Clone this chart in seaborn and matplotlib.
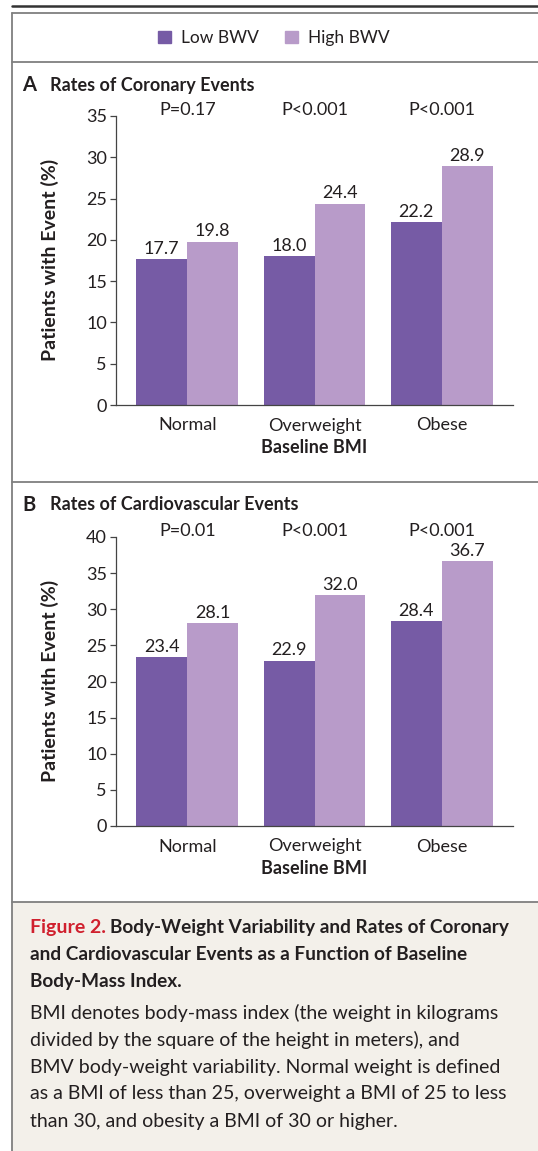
import matplotlib.pyplot as plt
import matplotlib.patches as mpatches
from matplotlib.lines import Line2D
import pandas as pd
import seaborn as sns

W, H = 538, 1151

categories = ["Normal", "Overweight", "Obese"]
groups = ["Low BWV", "High BWV"]

coronary_low = [17.7, 18.0, 22.2]
coronary_high = [19.8, 24.4, 28.9]
coronary_p = ["P=0.17", "P<0.001", "P<0.001"]
coronary_ticks = [0, 5, 10, 15, 20, 25, 30, 35]

cardio_low = [23.4, 22.9, 28.4]
cardio_high = [28.1, 32.0, 36.7]
cardio_p = ["P=0.01", "P<0.001", "P<0.001"]
cardio_ticks = [0, 5, 10, 15, 20, 25, 30, 35, 40]

palette = {"Low BWV": "#765ba5", "High BWV": "#b89bc9"}
INK = "#231f20"
RULE = "#7f7f7f"
FS = 13

caption_head = ["Body-Weight Variability and Rates of Coronary",
                "and Cardiovascular Events as a Function of Baseline",
                "Body-Mass Index."]
caption_body = ["BMI denotes body-mass index (the weight in kilograms",
                "divided by the square of the height in meters), and",
                "BMV body-weight variability. Normal weight is defined",
                "as a BMI of less than 25, overweight a BMI of 25 to less",
                "than 30, and obesity a BMI of 30 or higher."]

sns.set_theme(style="white")
plt.rcParams["font.family"] = ["Lato", "DejaVu Sans"]
plt.rcParams["text.color"] = INK
plt.rcParams["axes.labelcolor"] = INK
plt.rcParams["xtick.color"] = INK
plt.rcParams["ytick.color"] = INK


def fx(x):
    return x / W


def fy(y):
    return 1 - y / H


def rect(left, top, right, bottom):
    return [fx(left), fy(bottom), (right - left) / W, (bottom - top) / H]


fig = plt.figure(figsize=(W / 100, H / 100), dpi=100)

# caption background and frame rules
fig.add_artist(mpatches.Rectangle((fx(12), 0), 1 - fx(12), fy(902), transform=fig.transFigure,
                                  facecolor="#f3f0ea", edgecolor="none", zorder=0))
fig.add_artist(Line2D([fx(12), 1], [fy(6), fy(6)], transform=fig.transFigure, color="#333333", lw=1.8))
for y in [13, 62, 482, 902]:
    fig.add_artist(Line2D([fx(12), 1], [fy(y), fy(y)], transform=fig.transFigure, color=RULE, lw=1.3))
fig.add_artist(Line2D([fx(12), fx(12)], [fy(13), 0], transform=fig.transFigure, color=RULE, lw=1.3))

# legend
handles = [mpatches.Patch(color=palette[g], label=g) for g in groups]
fig.legend(handles=handles, loc="center", bbox_to_anchor=(fx(274), fy(38)), ncol=2, frameon=False,
           fontsize=12.5, handlelength=0.72, handleheight=0.72, handletextpad=0.6, columnspacing=1.5)


def draw_panel(ax, low, high, pvals, ticks, letter, title, title_y, ymid, xlab_y):
    df = pd.DataFrame({
        "bmi": categories * 2,
        "group": [groups[0]] * 3 + [groups[1]] * 3,
        "rate": low + high,
    })
    sns.barplot(data=df, x="bmi", y="rate", hue="group", order=categories, hue_order=groups,
                palette=palette, saturation=1, width=0.8, linewidth=0, errorbar=None,
                legend=False, ax=ax)
    for c in ax.containers:
        ax.bar_label(c, fmt="%.1f", padding=1.5, fontsize=FS, color=INK)
    for i, p in enumerate(pvals):
        ax.annotate(p, xy=(i, 1), xycoords=("data", "axes fraction"), xytext=(0, 0.5),
                    textcoords="offset points", ha="center", va="baseline", fontsize=FS)
    ax.set_xlim(-0.56, 2.56)
    ax.set_ylim(0, ticks[-1])
    ax.set_yticks(ticks)
    ax.tick_params(axis="y", left=True, length=4, width=0.9, pad=2.5, labelsize=FS, color="#444444")
    ax.tick_params(axis="x", bottom=False, pad=3, labelsize=FS)
    sns.despine(ax=ax)
    for s in ["left", "bottom"]:
        ax.spines[s].set_color("#444444")
        ax.spines[s].set_linewidth(0.9)
    ax.set_xlabel("")
    ax.set_ylabel("")
    fig.text(fx(22), fy(title_y), letter, fontsize=14.5, fontweight="bold", va="center")
    fig.text(fx(50), fy(title_y), title, fontsize=FS, fontweight="bold", va="center")
    fig.text(fx(50), fy(ymid), "Patients with Event (%)", fontsize=14, fontweight="bold",
             rotation=90, ha="center", va="center")
    fig.text(fx(314), fy(xlab_y), "Baseline BMI", fontsize=13, fontweight="bold",
             ha="center", va="center")


ax_a = fig.add_axes(rect(116, 116, 513, 405))
draw_panel(ax_a, coronary_low, coronary_high, coronary_p, coronary_ticks,
           "A", "Rates of Coronary Events", 85, 260, 447)

ax_b = fig.add_axes(rect(116, 537, 513, 826))
draw_panel(ax_b, cardio_low, cardio_high, cardio_p, cardio_ticks,
           "B", "Rates of Cardiovascular Events", 505, 681, 868)

# caption
renderer = fig.canvas.get_renderer()
CFS = 14
t = fig.text(fx(30), fy(928), "Figure 2.", fontsize=CFS, fontweight="bold", color="#d0202e", va="center")
bb = t.get_window_extent(renderer)
fig.text(fx(bb.x1 + 4), fy(928), caption_head[0], fontsize=13.7, fontweight="bold", va="center")
for k, line in enumerate(caption_head[1:]):
    fig.text(fx(30), fy(955 + 27 * k), line, fontsize=13.7, fontweight="bold", va="center")
for k, line in enumerate(caption_body):
    fig.text(fx(30), fy(1013 + 27 * k), line, fontsize=CFS, va="center")

fig.savefig("out.png", dpi=100)
